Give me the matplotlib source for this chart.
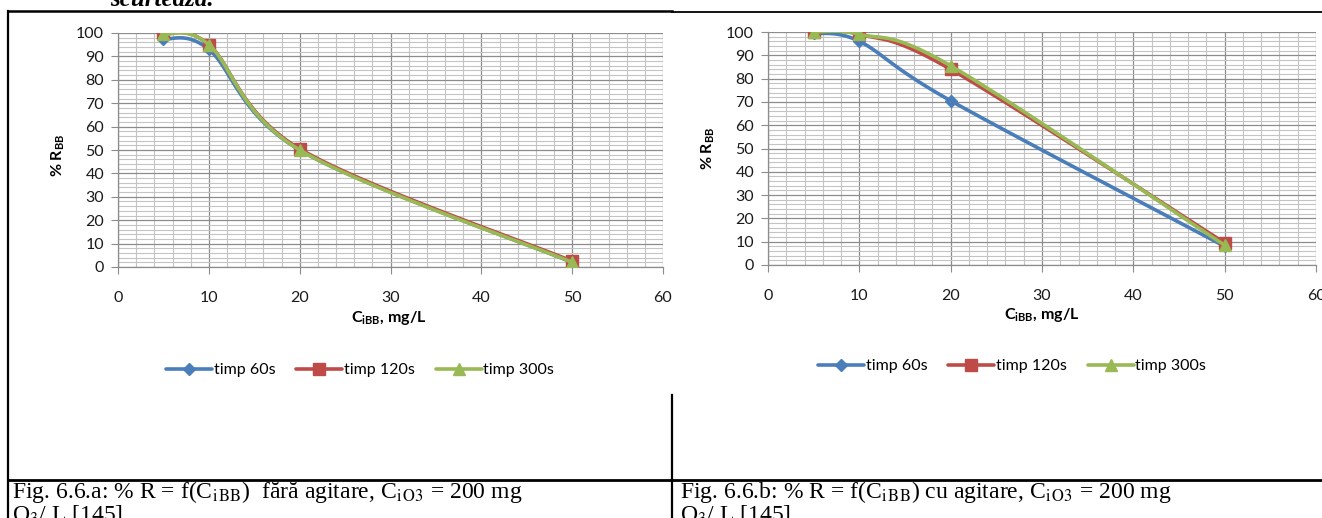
import numpy as np
import matplotlib
matplotlib.use("Agg")
import matplotlib.pyplot as plt
from matplotlib.lines import Line2D

plt.rcParams['font.family'] = ['Lato', 'DejaVu Sans']
plt.rcParams['mathtext.fontset'] = 'custom'
plt.rcParams['mathtext.rm'] = 'Lato'
plt.rcParams['mathtext.bf'] = 'Lato:bold'

# date
c_bb = [5, 10, 20, 50]
serii = ['timp 60s', 'timp 120s', 'timp 300s']
r_fara = [
    [97.5, 93, 50, 2],
    [100, 95, 50.5, 2.5],
    [99.5, 95, 50, 2],
]
r_cu = [
    [99.5, 96, 70.5, 8],
    [100, 99, 84, 9.5],
    [100, 99, 85.5, 8.5],
]
x_ticks = [0, 10, 20, 30, 40, 50, 60]
y_ticks = [0, 10, 20, 30, 40, 50, 60, 70, 80, 90, 100]

culori = ['#4A7EBB', '#BE4B48', '#98B954']
markere = ['D', 's', '^']
msize = [6, 8.5, 9]

W, H = 1322, 518


def smooth(x, y, n=30):
    # curba netezita ca in Excel (Bezier / Catmull-Rom)
    p = np.column_stack([x, y]).astype(float)
    out = [p[0]]
    t = np.linspace(0, 1, n)[1:, None]
    for i in range(len(p) - 1):
        p0 = p[max(i - 1, 0)]
        p1, p2 = p[i], p[i + 1]
        p3 = p[min(i + 2, len(p) - 1)]
        c1 = p1 + (p2 - p0) / 6
        c2 = p2 - (p3 - p1) / 6
        seg = (1 - t)**3 * p1 + 3 * (1 - t)**2 * t * c1 + 3 * (1 - t) * t**2 * c2 + t**3 * p2
        out.extend(seg)
    return np.array(out), n - 1


def px(x0, y0, x1, y1):
    return [x0 / W, 1 - y1 / H, (x1 - x0) / W, (y1 - y0) / H]


fig = plt.figure(figsize=(13.22, 5.18), dpi=100)


def grafic(rect, date, ylab_xy, xlab_xy, leg_xy):
    ax = fig.add_axes(rect)
    for vals, col, mk, ms, lab in zip(date, culori, markere, msize, serii):
        pts, step = smooth(c_bb, vals)
        ax.plot(pts[:, 0], pts[:, 1], color=col, lw=2.6, marker=mk, ms=ms,
                markevery=step, label=lab, zorder=3, solid_capstyle='round')
    ax.set_xlim(0, 60)
    ax.set_ylim(0, 100)
    ax.set_xticks(x_ticks)
    ax.set_yticks(y_ticks)
    ax.set_xticks(np.arange(0, 61, 2), minor=True)
    ax.set_yticks(np.arange(0, 101, 2), minor=True)
    ax.grid(which='minor', color='#C4C4C4', lw=0.8)
    ax.grid(which='major', color='#8C8C8C', lw=0.9)
    ax.set_axisbelow(True)
    for s in ['top', 'right']:
        ax.spines[s].set_visible(False)
    for s in ['left', 'bottom']:
        ax.spines[s].set_color('#8C8C8C')
        ax.spines[s].set_linewidth(0.9)
    ax.tick_params(which='major', length=5, color='#8C8C8C', labelsize=11.5,
                   labelcolor='#1a1a1a', pad=5)
    ax.tick_params(which='minor', length=0)
    ax.tick_params(axis='x', pad=12)
    fig.text(ylab_xy[0] / W, 1 - ylab_xy[1] / H, r'% R$_{\mathbf{BB}}$',
             rotation=90, ha='center', va='center', fontsize=11.5, fontweight='bold')
    fig.text(xlab_xy[0] / W, 1 - xlab_xy[1] / H, r'C$_{\mathbf{iBB}}$, mg/L',
             ha='center', va='center', fontsize=11.5, fontweight='bold')
    ax.legend(loc='center', bbox_to_anchor=(leg_xy[0] / W, 1 - leg_xy[1] / H),
              bbox_transform=fig.transFigure, ncol=3, frameon=False, fontsize=11.5,
              handlelength=2.9, handletextpad=0.1, columnspacing=1.3)
    return ax


grafic(px(118, 33, 663, 267), r_fara, (58, 155), (389, 318), (360, 370))
grafic(px(768, 32, 1316, 265), r_cu, (708, 148), (1042, 315), (1012, 366))

# liniile tabelului din document
def linie(xs, ys, lw=1.6):
    fig.add_artist(Line2D([x / W for x in xs], [1 - y / H for y in ys],
                          color='black', lw=lw, transform=fig.transFigure))

linie([8, 672], [11, 11], 1.8)
linie([672, W], [12, 12], 1.3)
linie([8, 8], [11, H])
linie([672, 672], [395, H])
linie([8, W], [480, 480], 2.0)

serif = ['Liberation Serif', 'DejaVu Serif']
fig.text(110 / W, 1 - 6 / H, 'scurtează.', family=serif, fontsize=18,
         fontweight='bold', style='italic', va='baseline')

cap1 = r'Fig. 6.6.a: % R = f(C$_{\mathrm{i\,BB}}$)  fără agitare, C$_{\mathrm{i\,O3}}$ = 200 mg'
cap2 = r'Fig. 6.6.b: % R = f(C$_{\mathrm{i\,BB}}$) cu agitare, C$_{\mathrm{i\,O3}}$ = 200 mg'
cap3 = r'O$_{\mathrm{3}}$/ L [145]'
for x0, c in [(12, cap1), (680, cap2)]:
    fig.text(x0 / W, 1 - 498 / H, c, family=serif, fontsize=17, va='baseline',
             math_fontfamily='stix')
    fig.text(x0 / W, 1 - 520 / H, cap3, family=serif, fontsize=17, va='baseline',
             math_fontfamily='stix')

fig.savefig('out.png', dpi=100)
